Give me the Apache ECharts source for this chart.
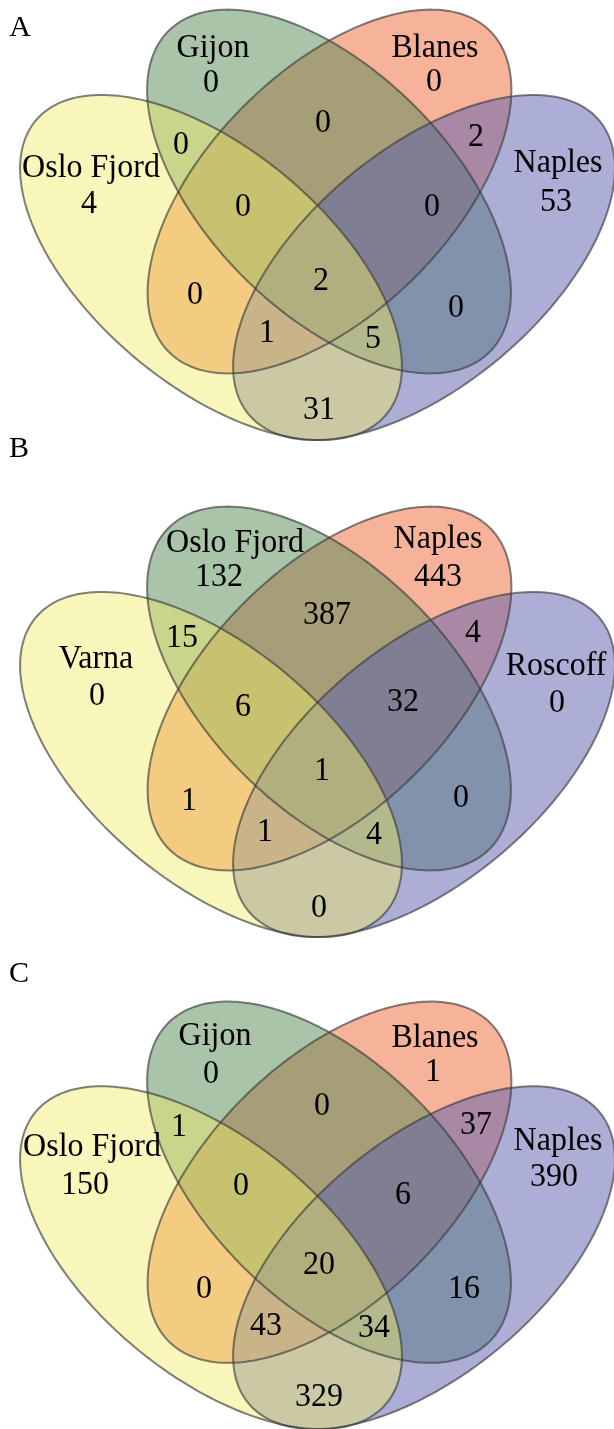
<!DOCTYPE html>
<html>
<head>
<meta charset="utf-8">
<script src="https://cdn.jsdelivr.net/npm/echarts@6/dist/echarts.min.js"></script>
<style>
  html, body { margin: 0; padding: 0; background: #fff; }
  #chart { width: 614px; height: 1429px; }
</style>
</head>
<body>
<div id="chart"></div>
<script>
// panel letters
const panelLetters = ["A", "B", "C"];

// set names, in ellipse order: yellow, green, red, purple
const setNamesA = ["Oslo Fjord", "Gijon", "Blanes", "Naples"];
const setNamesB = ["Varna", "Oslo Fjord", "Naples", "Roscoff"];
const setNamesC = ["Oslo Fjord", "Gijon", "Blanes", "Naples"];

// regions (Y=yellow, G=green, R=red, P=purple)
const regionKeys = ["Y", "G", "R", "P", "YG", "GR", "RP", "YGR", "GRP", "YGRP", "YR", "GP", "YRP", "YGP", "YP"];
const countsA = [4, 0, 0, 53, 0, 0, 2, 0, 0, 2, 0, 0, 1, 5, 31];
const countsB = [0, 132, 443, 0, 15, 387, 4, 6, 32, 1, 1, 0, 1, 4, 0];
const countsC = [150, 0, 1, 390, 1, 0, 37, 0, 6, 20, 0, 16, 43, 34, 329];

// ---- layout (panel-local coords, y going down) ----
const panelTops = [0, 497, 992];
const letterPos = [[20, 28], [19, 449], [19, 974]];

// ellipses drawn in this order: red, green, purple, yellow
const shapes = [
  { key: "R", cx: 329.5, cy: 191.5, a: 227, b: 121, ang: 135, fill: "rgba(237,103,53,0.5)" },
  { key: "G", cx: 329, cy: 191.5, a: 227, b: 121, ang: 45, fill: "rgba(85,137,85,0.5)" },
  { key: "P", cx: 424, cy: 267.5, a: 228.7, b: 118, ang: 140, fill: "rgba(89,93,173,0.5)" },
  { key: "Y", cx: 211, cy: 267.5, a: 228.7, b: 118, ang: 40, fill: "rgba(240,235,102,0.45)" }
];

const namePos = [
  [[91, 168], [213, 48], [435, 48], [558, 163]],
  [[96, 162], [235, 46], [438, 42], [556, 169]],
  [[92, 156], [215, 44], [435, 46], [558, 150]]
];
const countPos = [
  [[89, 204], [211, 83], [434, 82], [556, 202], [181, 145], [323, 123], [476, 137], [243, 207], [432, 207], [321, 281], [195, 295], [456, 308], [267, 333], [373, 339], [319, 410]],
  [[97, 199], [219, 80], [438, 80], [557, 206], [182, 141], [327, 118], [473, 136], [243, 210], [403, 205], [322, 274], [189, 304], [461, 301], [265, 335], [374, 338], [319, 411]],
  [[85, 194], [211, 82], [433, 80], [554, 186], [179, 136], [322, 115], [476, 134], [241, 195], [403, 204], [319, 275], [204, 299], [464, 299], [266, 336], [374, 338], [319, 408]]
];

const FONT = '32px "Liberation Serif", "Times New Roman", serif';
const TEXT_SCALE_Y = 1.08;

const chart = echarts.init(document.getElementById("chart"));

function ellipsePoints(api, cx, cy, a, b, angDeg) {
  const ang = angDeg * Math.PI / 180;
  const pts = [];
  for (let k = 0; k < 240; k++) {
    const t = k / 240 * Math.PI * 2;
    const ex = a * Math.cos(t), ey = b * Math.sin(t);
    pts.push(api.coord([
      cx + ex * Math.cos(ang) - ey * Math.sin(ang),
      cy + ex * Math.sin(ang) + ey * Math.cos(ang)
    ]));
  }
  return pts;
}

function textEl(pt, str) {
  return {
    type: "text",
    x: pt[0], y: pt[1],
    scaleY: TEXT_SCALE_Y,
    style: {
      text: str, font: FONT, fill: "#000",
      align: "center", verticalAlign: "middle",
      textAlign: "center", textVerticalAlign: "middle"
    }
  };
}

const allNames = [setNamesA, setNamesB, setNamesC];
const allCounts = [countsA, countsB, countsC];

const grids = [], xAxes = [], yAxes = [], series = [];
panelTops.forEach((top, p) => {
  grids.push({ left: 0, top: top, width: 614, height: 440 });
  xAxes.push({ type: "value", gridIndex: p, min: 0, max: 614, show: false });
  yAxes.push({ type: "value", gridIndex: p, min: 0, max: 440, inverse: true, show: false });

  const shapeData = shapes.map(s => [s.cx, s.cy, s.a, s.b, s.ang]);

  // fills
  series.push({
    type: "custom", xAxisIndex: p, yAxisIndex: p, clip: false, silent: true, z: 1,
    data: shapeData,
    renderItem: (params, api) => ({
      type: "polygon",
      shape: { points: ellipsePoints(api, api.value(0), api.value(1), api.value(2), api.value(3), api.value(4)) },
      style: { fill: shapes[params.dataIndex].fill, stroke: "none" }
    })
  });
  // outlines
  series.push({
    type: "custom", xAxisIndex: p, yAxisIndex: p, clip: false, silent: true, z: 2,
    data: shapeData,
    renderItem: (params, api) => ({
      type: "polygon",
      shape: { points: ellipsePoints(api, api.value(0), api.value(1), api.value(2), api.value(3), api.value(4)) },
      style: { fill: "none", stroke: "rgba(60,60,60,0.65)", lineWidth: 2 }
    })
  });
  // set names
  series.push({
    type: "custom", xAxisIndex: p, yAxisIndex: p, clip: false, silent: true, z: 3,
    data: namePos[p].map(pt => [pt[0], pt[1]]),
    renderItem: (params, api) => textEl(api.coord([api.value(0), api.value(1)]), allNames[p][params.dataIndex])
  });
  // region counts
  series.push({
    type: "custom", xAxisIndex: p, yAxisIndex: p, clip: false, silent: true, z: 3,
    data: allCounts[p].map((v, i) => [countPos[p][i][0], countPos[p][i][1], v]),
    renderItem: (params, api) => textEl(api.coord([api.value(0), api.value(1)]), String(api.value(2)))
  });
});

chart.setOption({
  animation: false,
  backgroundColor: "#fff",
  grid: grids,
  xAxis: xAxes,
  yAxis: yAxes,
  graphic: panelLetters.map((t, i) => ({
    type: "text",
    x: letterPos[i][0], y: letterPos[i][1],
    style: {
      text: t, font: '30px "Liberation Serif", "Times New Roman", serif', fill: "#000",
      align: "center", verticalAlign: "middle",
      textAlign: "center", textVerticalAlign: "middle"
    }
  })),
  series: series
});

window.addEventListener("resize", () => chart.resize());
</script>
</body>
</html>
